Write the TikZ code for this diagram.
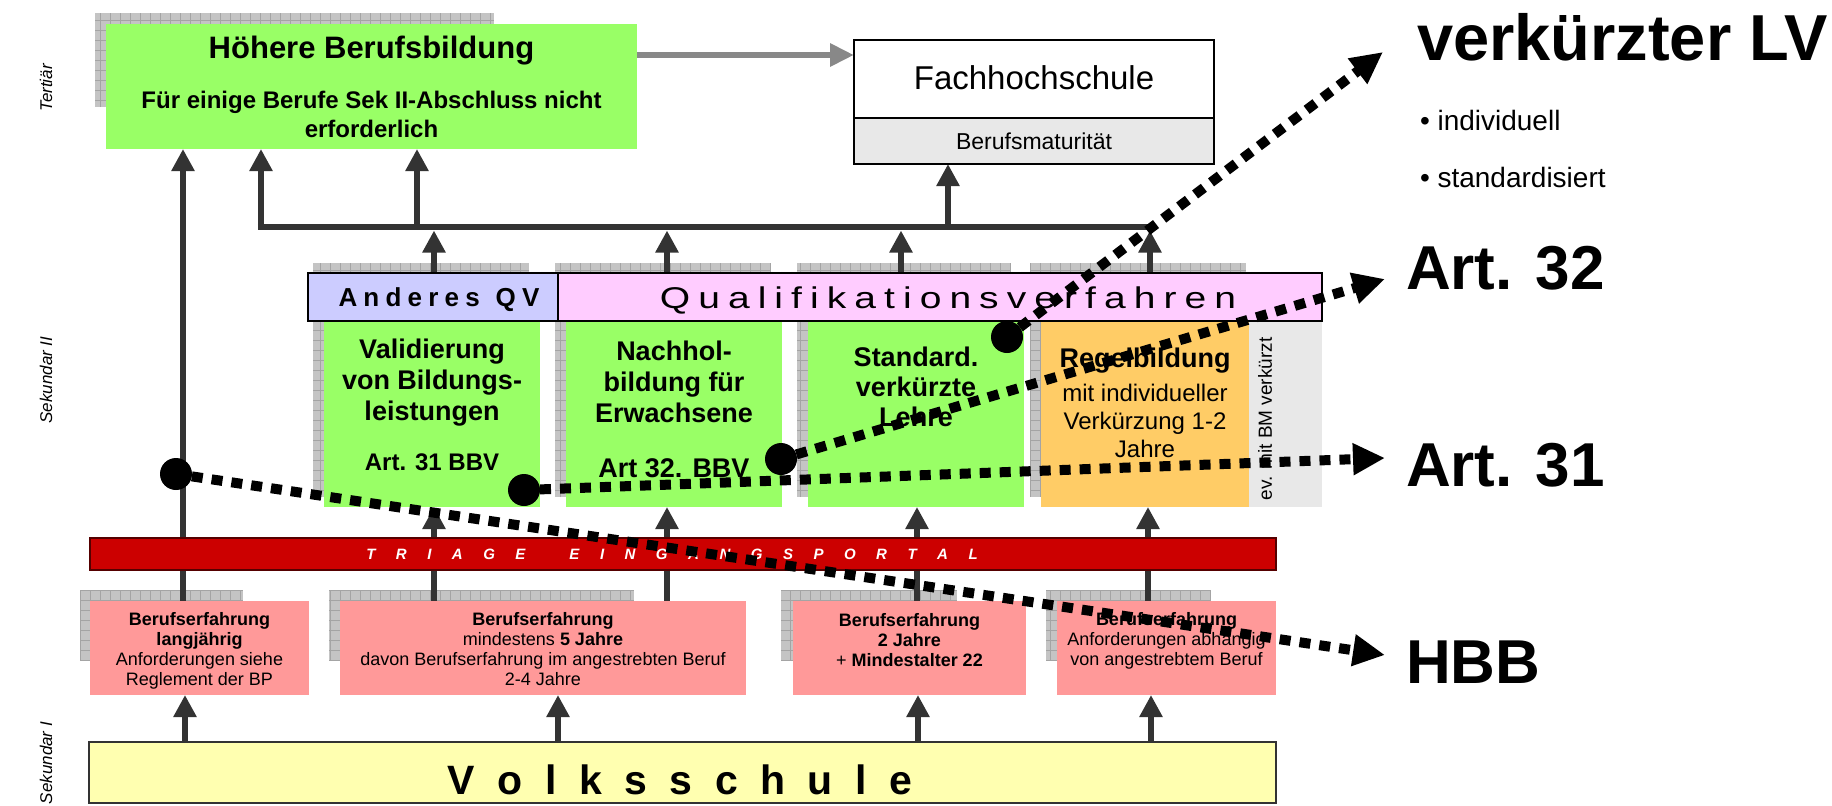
\documentclass[tikz,border=0pt]{standalone}
\usepackage{fontspec}
\usepackage{graphicx}
\setmainfont{Liberation Sans}
\usetikzlibrary{arrows.meta}
\definecolor{hgreen}{HTML}{99FF66}
\definecolor{lav}{HTML}{CCCCFF}
\definecolor{pinkq}{HTML}{FFCCFF}
\definecolor{orng}{HTML}{FFCC66}
\definecolor{salm}{HTML}{FF9999}
\definecolor{tred}{HTML}{CC0000}
\definecolor{tredb}{HTML}{550000}
\definecolor{volky}{HTML}{FFFFB0}
\definecolor{lgray}{HTML}{E8E8E8}
\definecolor{dkg}{HTML}{333333}
\definecolor{arrgray}{HTML}{888888}
\definecolor{shadowfill}{HTML}{C4C4C4}
\definecolor{shadowline}{HTML}{A4A4A4}
\newcommand\fs[2]{\fontsize{#1pt}{#2pt}\selectfont}
\makeatletter
\newcommand\lsp[2]{\def\lsp@k{#1}\lsp@loop#2\lsp@end}
\def\lsp@end{\lsp@end}
\def\lsp@loop#1{\ifx#1\lsp@end\kern-\lsp@k\relax\else#1\kern\lsp@k\relax\expandafter\lsp@loop\fi}
\makeatother
\newcommand\shad[4]{\fill[shf] (#1,#2) rectangle (#3,#4); \draw[shl] (#1,#4) grid (#3,#2);}
\pgfdeclarelayer{shadl}\pgfdeclarelayer{bg}\pgfdeclarelayer{fg}
\pgfsetlayers{shadl,bg,main,fg}
\begin{document}
\begin{tikzpicture}[x=1pt,y=-1pt,
  box/.style={rectangle, inner sep=0pt, outer sep=0pt, anchor=north west, draw=none},
  bord/.style={draw=black, line width=1.5pt},
  txt/.style={inner sep=0pt, outer sep=0pt, align=center},
  uarr/.style={draw=dkg, line width=6.5pt, -{Triangle[length=22pt,width=22pt]}},
  ln/.style={draw=dkg, line width=6.5pt},
  garr/.style={draw=arrgray, line width=6pt, -{Triangle[length=24pt,width=22pt]}},
  dotline/.style={draw=black, line width=10pt, dash pattern=on 11pt off 9pt, -{Triangle[length=32pt,width=30pt]}},
  bigdot/.style={circle, fill=black, minimum size=32pt, inner sep=0pt, outer sep=0pt},
  shf/.style={fill=shadowfill},
  shl/.style={draw=shadowline, line width=0.8pt, step=10pt},
  lvl/.style={inner sep=0pt, outer sep=0pt, rotate=90, font=\itshape\fs{17}{20}},
]
\useasboundingbox (0,0) rectangle (1832,806);

% lanes
\coordinate (L183) at (183,0);  \coordinate (L185) at (185,0);
\coordinate (L261) at (261,0);  \coordinate (L417) at (417,0);
\coordinate (L434) at (434,0);  \coordinate (L558) at (558,0);
\coordinate (L667) at (667,0);  \coordinate (L901) at (901,0);
\coordinate (L917) at (917,0);  \coordinate (L918) at (918,0);
\coordinate (L948) at (948,0);  \coordinate (L1148) at (1148,0);
\coordinate (L1150) at (1150,0); \coordinate (L1151) at (1151,0);
\coordinate (Y55) at (0,55);
\coordinate (barL) at (257.75,227); \coordinate (barR) at (1153.25,227);
\coordinate (barB) at (0,230.5);

% shadows
\begin{pgfonlayer}{shadl}
\shad{95}{13}{494}{107}
\shad{313}{263}{529}{497}
\shad{555}{263}{771}{497}
\shad{797}{263}{1011}{497}
\shad{1030}{263}{1246}{497}
\shad{80}{590}{243}{660}
\shad{329}{590}{634}{660}
\shad{781}{590}{957}{660}
\shad{1046}{590}{1211}{660}
\end{pgfonlayer}

% boxes
\node[box, fill=hgreen, minimum width=531pt, minimum height=125pt] (hb) at (106,24) {};
\node[box, bord, fill=white, minimum width=360pt, minimum height=78pt] (fh) at (854,40) {};
\node[box, bord, fill=lgray, minimum width=360pt, minimum height=46pt] (bm) at (854,118) {};
\node[box, fill=hgreen, minimum width=216pt, minimum height=186pt] (val) at (324,321) {};
\node[box, fill=hgreen, minimum width=216pt, minimum height=186pt] (nach) at (566,321) {};
\node[box, fill=hgreen, minimum width=216pt, minimum height=186pt] (std) at (808,321) {};
\node[box, fill=orng, minimum width=208pt, minimum height=186pt] (reg) at (1041,321) {};
\node[box, fill=lgray, minimum width=73pt, minimum height=186pt] (evbm) at (1249,321) {};
\node[box, bord, fill=lav, minimum width=250pt, minimum height=48pt] (aqv) at (308,273) {};
\node[box, bord, fill=pinkq, minimum width=764pt, minimum height=48pt] (qv) at (558,273) {};
\node[box, draw=tredb, line width=1.5pt, fill=tred, minimum width=1186pt, minimum height=32pt] (tri) at (90,538) {};
\node[box, fill=salm, minimum width=219pt, minimum height=94pt] (b1) at (90,601) {};
\node[box, fill=salm, minimum width=406pt, minimum height=94pt] (b2) at (340,601) {};
\node[box, fill=salm, minimum width=233pt, minimum height=94pt] (b3) at (793,601) {};
\node[box, fill=salm, minimum width=219pt, minimum height=94pt] (b4) at (1057,601) {};
\node[box, draw=dkg, line width=1.5pt, fill=volky, minimum width=1187pt, minimum height=61pt] (volk) at (89,742) {};

% connectors
\begin{pgfonlayer}{bg}
\draw[uarr] (b1.north -| L183) -- (hb.south -| L183);
\draw[uarr] (b2.north -| L434) -- (val.south -| L434);
\draw[uarr] (b2.north -| L667) -- (nach.south -| L667);
\draw[uarr] (b3.north -| L917) -- (std.south -| L917);
\draw[uarr] (b4.north -| L1148) -- (reg.south -| L1148);
\draw[uarr] (aqv.north -| L434) -- (L434 |- barB);
\draw[uarr] (qv.north -| L667) -- (L667 |- barB);
\draw[uarr] (qv.north -| L901) -- (L901 |- barB);
\draw[uarr] (qv.north -| L1150) -- (L1150 |- barB);
\draw[ln] (barL) -- (barR);
\draw[uarr] (L261 |- barL) -- (hb.south -| L261);
\draw[uarr] (L417 |- barL) -- (hb.south -| L417);
\draw[uarr] (L948 |- barL) -- (bm.south -| L948);
\draw[uarr] (volk.north -| L185) -- (b1.south -| L185);
\draw[uarr] (volk.north -| L558) -- (b2.south -| L558);
\draw[uarr] (volk.north -| L918) -- (b3.south -| L918);
\draw[uarr] (volk.north -| L1151) -- (b4.south -| L1151);
\draw[garr] (hb.east |- Y55) -- (fh.west |- Y55);
\end{pgfonlayer}

% texts
\node[txt, anchor=base, font=\bfseries\fs{31}{36}] (thb) at (371.5,58) {Höhere Berufsbildung};
\node[txt, font=\bfseries\fs{24}{29}] (thb2) at (371.5,114) {Für einige Berufe Sek II-Abschluss nicht\\erforderlich};
\node[txt, font=\fs{33}{38}] (tfh) at (1034,78) {Fachhochschule};
\node[txt, font=\fs{23}{27}] (tbm) at (1034,141) {Berufsmaturität};
\node[txt, anchor=base, font=\bfseries\fs{26}{30}] (taqv) at (439,306) {\lsp{6.2pt}{Anderes}\hspace{16pt}\lsp{6.2pt}{QV}};
\node[txt, anchor=base, font=\fs{30}{34}] (tqv) at (948,308) {\scalebox{1.3}[1]{\lsp{6.2pt}{Qualifikationsverfahren}}};
\node[txt, font=\bfseries\fs{27}{31}] (tval) at (432,383) {Validierung\\von Bildungs-\\leistungen};
\node[txt, anchor=base, font=\bfseries\fs{24}{28}] (tval2) at (432,470) {Art. 31 BBV};
\node[txt, font=\bfseries\fs{27}{31}] (tnach) at (674,382) {Nachhol-\\bildung für\\Erwachsene};
\node[txt, anchor=base, font=\bfseries\fs{27}{31}] (tnach2) at (674,477) {Art 32. BBV};
\node[txt, font=\bfseries\fs{27}{30}] (tstd) at (916,387) {Standard.\\verkürzte\\Lehre};
\node[txt, anchor=base, font=\bfseries\fs{27}{31}] (treg) at (1145,367) {Regelbildung};
\node[txt, font=\fs{24}{28}] (treg2) at (1145,421) {mit individueller\\Verkürzung 1-2\\Jahre};
\node[txt, rotate=90, font=\fs{19}{22}] (tev) at (1265,419) {ev. mit BM verkürzt};
\node[txt, text=white, font=\bfseries\itshape\fs{15}{18}] (ttri) at (672,554) {\lsp{20.5pt}{TRIAGE}\hspace{44pt}\lsp{20.5pt}{EINGANGSPORTAL}};
\node[txt, font=\fs{18}{20}] (tb1) at (199.5,651) {\textbf{Berufserfahrung}\\\textbf{langjährig}\\Anforderungen siehe\\Reglement der BP};
\node[txt, font=\fs{18}{20}] (tb2) at (543,649) {\textbf{Berufserfahrung}\\mindestens \textbf{5 Jahre}\\davon Berufserfahrung im angestrebten Beruf\\2-4 Jahre};
\node[txt, font=\fs{18}{20}] (tb3) at (909.5,640) {\textbf{Berufserfahrung}\\\textbf{2 Jahre}\\+ \textbf{Mindestalter 22}};
\node[txt, font=\fs{18}{20}] (tb4) at (1166.5,641) {\textbf{Berufserfahrung}\\Anforderungen abhängig\\von angestrebtem Beruf};
\node[txt, font=\bfseries\fs{41}{46}] (tvolk) at (680,780) {\lsp{22.5pt}{Volksschule}};
\node[lvl] (lter) at (46,88) {Tertiär};
\node[lvl] (lsek2) at (46,380) {Sekundar II};
\node[lvl] (lsek1) at (46,763) {Sekundar I};
\node[txt, anchor=base west, font=\bfseries\fs{65}{72}] (rlv) at (1417,60) {verkürzter LV};
\node[txt, anchor=base west, font=\fs{28}{32}] (rb1) at (1420,130) {• individuell};
\node[txt, anchor=base west, font=\fs{28}{32}] (rb2) at (1420,187) {• standardisiert};
\node[txt, anchor=base west, font=\bfseries\fs{62}{70}] (r32) at (1406,289) {Art. 32};
\node[txt, anchor=base west, font=\bfseries\fs{62}{70}] (r31) at (1406,486) {Art. 31};
\node[txt, anchor=base west, font=\bfseries\fs{62}{70}] (rhbb) at (1406,683) {HBB};

% dotted pointers
\begin{pgfonlayer}{fg}
\node[bigdot] (d1) at (176,474) {};
\node[bigdot] (d2) at (524,490) {};
\node[bigdot] (d3) at (781,459) {};
\node[bigdot] (d4) at (1007,337) {};
\coordinate (e1) at (1385,655);
\coordinate (e2) at (1385,458);
\coordinate (e3) at (1385,279);
\coordinate (e4) at (1383,52);
\draw[dotline] (d1) -- (e1);
\draw[dotline] (d2) -- (e2);
\draw[dotline] (d3) -- (e3);
\draw[dotline] (d4) -- (e4);
\end{pgfonlayer}
\end{tikzpicture}
\end{document}
